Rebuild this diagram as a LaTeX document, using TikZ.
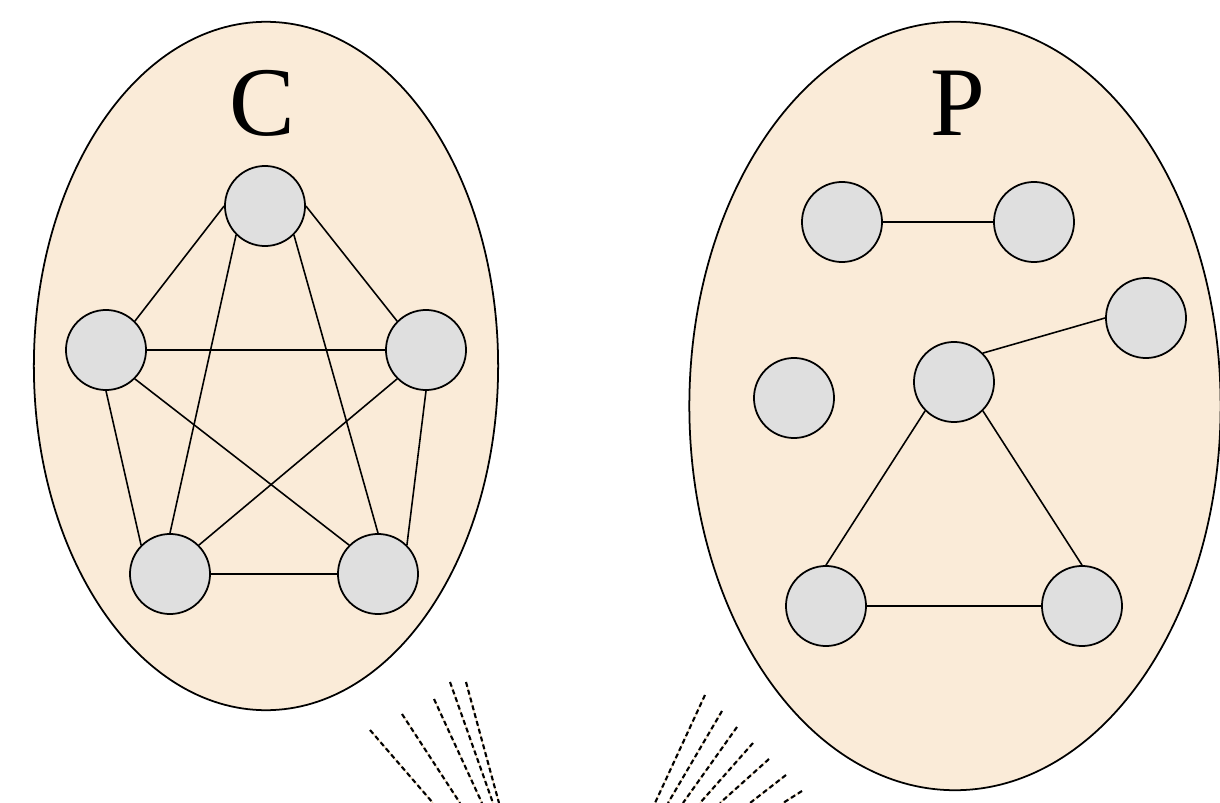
\documentclass[tikz,border=0pt]{standalone}
\usepackage{fontspec}
\setmainfont{Liberation Serif}
\usetikzlibrary{shapes.geometric, positioning}

\definecolor{setfill}{RGB}{250,235,216}
\definecolor{vertfill}{RGB}{223,223,223}
\definecolor{rayline}{RGB}{240,215,180}

\begin{document}
\begin{tikzpicture}[
    x=0.01cm, y=-0.01cm,
    group/.style={ellipse, draw=black, line width=0.5pt, fill=setfill},
    vertex/.style={circle, draw=black, line width=0.5pt, fill=vertfill, minimum size=0.8cm, inner sep=0pt},
    groupname/.style={font=\fontsize{28}{30}\selectfont},
    edge/.style={line width=0.45pt},
    ray/.style={line width=0.6pt, dash pattern=on 1.4pt off 0.9pt}
]
    \useasboundingbox (0,0) rectangle (1220,803);

    % The two sets
    \node[group, minimum width=4.64cm, minimum height=6.88cm] (cset) at (266,366) {};
    \node[group, minimum width=5.31cm, minimum height=7.68cm] (pset) at (955,406) {};
    \node[groupname] (clabel) at (262,103) {C};
    \node[groupname] (plabel) at (958,103) {P};

    % Complete graph inside C
    \node[vertex] (c1) at (265,206) {};
    \node[vertex] (c2) at (106,350) {};
    \node[vertex] (c3) at (426,350) {};
    \node[vertex] (c4) at (170,574) {};
    \node[vertex] (c5) at (378,574) {};
    \foreach \a/\b in {c1.west/c2.north east, c1.east/c3.north west,
                       c1.south west/c4.north, c1.south east/c5.north,
                       c2.east/c3.west, c2.south/c4.north west,
                       c2.south east/c5.north west, c3.south west/c4.north east,
                       c3.south/c5.north east, c4.east/c5.west}
        \draw[edge] (\a) -- (\b);

    % Partial graph inside P
    \node[vertex] (p1) at (842,222) {};
    \node[vertex] (p2) at (1034,222) {};
    \node[vertex] (p3) at (1146,318) {};
    \node[vertex] (p4) at (954,382) {};
    \node[vertex] (p5) at (794,398) {};
    \node[vertex] (p6) at (826,606) {};
    \node[vertex] (p7) at (1082,606) {};
    \foreach \a/\b in {p1.east/p2.west, p4.north east/p3.west,
                       p4.south west/p6.north, p4.south east/p7.north,
                       p6.east/p7.west}
        \draw[edge] (\a) -- (\b);

    % Dashed rays below the sets
    \coordinate (la1) at (370,730);  \coordinate (lb1) at (433,803);
    \coordinate (la2) at (402,714);  \coordinate (lb2) at (460,803);
    \coordinate (la3) at (434,699);  \coordinate (lb3) at (482,803);
    \coordinate (la4) at (450,682);  \coordinate (lb4) at (493,803);
    \coordinate (la5) at (466,682);  \coordinate (lb5) at (499,803);
    \coordinate (ra1) at (705,695);  \coordinate (rb1) at (655,803);
    \coordinate (ra2) at (722,711);  \coordinate (rb2) at (668,803);
    \coordinate (ra3) at (737,727);  \coordinate (rb3) at (683,803);
    \coordinate (ra4) at (753,743);  \coordinate (rb4) at (700,803);
    \coordinate (ra5) at (769,759);  \coordinate (rb5) at (720,803);
    \coordinate (ra6) at (786,775);  \coordinate (rb6) at (750,803);
    \coordinate (ra7) at (802,791);  \coordinate (rb7) at (783,803);
    \foreach \i in {1,...,5} {
        \draw[rayline, line width=0.3pt] (la\i) -- (lb\i);
        \draw[ray] (la\i) -- (lb\i);
    }
    \foreach \i in {1,...,7} {
        \draw[rayline, line width=0.3pt] (ra\i) -- (rb\i);
        \draw[ray] (ra\i) -- (rb\i);
    }
\end{tikzpicture}
\end{document}
